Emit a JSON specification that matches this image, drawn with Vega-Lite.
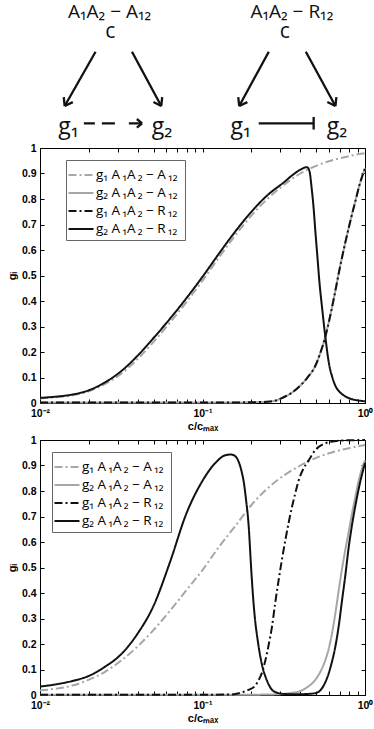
{
  "$schema": "https://vega.github.io/schema/vega-lite/v6.json",
  "padding": {"left": 5, "top": 0, "right": 2, "bottom": 2},
  "bounds": "flush",
  "spacing": 37,
  "background": "white",
  "resolve": {"scale": {"color": "independent", "strokeDash": "independent"}, "legend": {"color": "independent", "strokeDash": "independent"}},
  "config": {
    "font": "Liberation Sans",
    "view": {"stroke": "black", "strokeWidth": 1},
    "axis": {"grid": false, "domainColor": "black", "tickColor": "black", "labelColor": "black", "titleColor": "black", "labelFont": "Liberation Sans", "labelFontWeight": "bold", "labelFontSize": 10.5, "titleFont": "Liberation Sans", "titleFontWeight": "bold", "titleFontSize": 11, "labelFlush": false, "labelOverlap": false, "tickSize": -4},
    "legend": {"fillColor": "white", "strokeColor": "#666", "padding": 4, "symbolType": "M-1.25,0H1.25", "symbolSize": 400, "symbolStrokeWidth": 2, "labelFontSize": 13.5, "labelFont": "Open Sans", "labelColor": "black", "rowPadding": -2, "labelLimit": 0, "labelOffset": 4}
  },
  "datasets": {
    "texts": [
      {"x": 21.4, "y": 83.5, "text": "A₁A₂ − A₁₂", "role": "title"},
      {"x": 77.5, "y": 83.5, "text": "A₁A₂ − R₁₂", "role": "title"},
      {"x": 21.6, "y": 65.5, "text": "c", "role": "c"},
      {"x": 75.3, "y": 65.5, "text": "c", "role": "c"},
      {"x": 8.8, "y": -20.7, "text": "g₁", "role": "g"},
      {"x": 37.5, "y": -20.7, "text": "g₂", "role": "g"},
      {"x": 61.8, "y": -20.7, "text": "g₁", "role": "g"},
      {"x": 91.4, "y": -20.7, "text": "g₂", "role": "g"}
    ],
    "arrows": [
      {"x": 17.1, "y": 53.4, "x2": 7.6, "y2": 4.5, "kind": "solid"},
      {"x": 7.6, "y": 4.5, "x2": 10.1, "y2": 8.0, "kind": "solid"},
      {"x": 7.6, "y": 4.5, "x2": 7.3, "y2": 12.6, "kind": "solid"},
      {"x": 28.3, "y": 53.4, "x2": 37.3, "y2": 4.5, "kind": "solid"},
      {"x": 37.3, "y": 4.5, "x2": 37.6, "y2": 12.5, "kind": "solid"},
      {"x": 37.3, "y": 4.5, "x2": 34.9, "y2": 8.1, "kind": "solid"},
      {"x": 70.4, "y": 53.4, "x2": 61.3, "y2": 4.5, "kind": "solid"},
      {"x": 61.3, "y": 4.5, "x2": 63.8, "y2": 8.0, "kind": "solid"},
      {"x": 61.3, "y": 4.5, "x2": 61.0, "y2": 12.6, "kind": "solid"},
      {"x": 81.8, "y": 53.4, "x2": 90.9, "y2": 4.5, "kind": "solid"},
      {"x": 90.9, "y": 4.5, "x2": 91.2, "y2": 12.5, "kind": "solid"},
      {"x": 90.9, "y": 4.5, "x2": 88.4, "y2": 8.1, "kind": "solid"},
      {"x": 31.4, "y": -11.1, "x2": 29.8, "y2": -7.2, "kind": "solid"},
      {"x": 31.4, "y": -11.1, "x2": 29.8, "y2": -15.0, "kind": "solid"},
      {"x": 67.3, "y": -11.1, "x2": 84.2, "y2": -11.1, "kind": "solid"},
      {"x": 84.2, "y": -5.4, "x2": 84.2, "y2": -16.7, "kind": "solid"},
      {"x": 13.5, "y": -11.1, "x2": 31.4, "y2": -11.1, "kind": "dashed"}
    ],
    "top": [
      {"c": 0.01, "g": 0.018, "s": "s1"}, {"c": 0.0126, "g": 0.023, "s": "s1"}, {"c": 0.0158, "g": 0.03, "s": "s1"}, {"c": 0.02, "g": 0.046, "s": "s1"}, {"c": 0.025, "g": 0.074, "s": "s1"}, {"c": 0.0316, "g": 0.115, "s": "s1"}, {"c": 0.0398, "g": 0.172, "s": "s1"}, {"c": 0.05, "g": 0.24, "s": "s1"}, {"c": 0.063, "g": 0.315, "s": "s1"}, {"c": 0.0794, "g": 0.395, "s": "s1"}, {"c": 0.1, "g": 0.48, "s": "s1"}, {"c": 0.126, "g": 0.57, "s": "s1"}, {"c": 0.158, "g": 0.655, "s": "s1"}, {"c": 0.2, "g": 0.735, "s": "s1"}, {"c": 0.251, "g": 0.8, "s": "s1"}, {"c": 0.316, "g": 0.855, "s": "s1"}, {"c": 0.4, "g": 0.9, "s": "s1"}, {"c": 0.5, "g": 0.93, "s": "s1"}, {"c": 0.63, "g": 0.952, "s": "s1"}, {"c": 0.794, "g": 0.968, "s": "s1"}, {"c": 1, "g": 0.98, "s": "s1"},
      {"c": 0.01, "g": 0.002, "s": "s2"}, {"c": 0.05, "g": 0.002, "s": "s2"}, {"c": 0.1, "g": 0.002, "s": "s2"}, {"c": 0.15, "g": 0.002, "s": "s2"}, {"c": 0.2, "g": 0.003, "s": "s2"}, {"c": 0.25, "g": 0.005, "s": "s2"}, {"c": 0.27, "g": 0.007, "s": "s2"}, {"c": 0.29, "g": 0.012, "s": "s2"}, {"c": 0.31, "g": 0.02, "s": "s2"}, {"c": 0.35, "g": 0.038, "s": "s2"}, {"c": 0.39, "g": 0.062, "s": "s2"}, {"c": 0.44, "g": 0.098, "s": "s2"}, {"c": 0.494, "g": 0.145, "s": "s2"}, {"c": 0.53, "g": 0.195, "s": "s2"}, {"c": 0.57, "g": 0.26, "s": "s2"}, {"c": 0.61, "g": 0.34, "s": "s2"}, {"c": 0.657, "g": 0.44, "s": "s2"}, {"c": 0.7, "g": 0.53, "s": "s2"}, {"c": 0.757, "g": 0.63, "s": "s2"}, {"c": 0.81, "g": 0.71, "s": "s2"}, {"c": 0.871, "g": 0.79, "s": "s2"}, {"c": 0.93, "g": 0.86, "s": "s2"}, {"c": 1, "g": 0.92, "s": "s2"},
      {"c": 0.01, "g": 0.002, "s": "s3"}, {"c": 0.05, "g": 0.002, "s": "s3"}, {"c": 0.1, "g": 0.002, "s": "s3"}, {"c": 0.15, "g": 0.002, "s": "s3"}, {"c": 0.2, "g": 0.003, "s": "s3"}, {"c": 0.25, "g": 0.005, "s": "s3"}, {"c": 0.27, "g": 0.007, "s": "s3"}, {"c": 0.29, "g": 0.012, "s": "s3"}, {"c": 0.31, "g": 0.02, "s": "s3"}, {"c": 0.35, "g": 0.038, "s": "s3"}, {"c": 0.39, "g": 0.062, "s": "s3"}, {"c": 0.44, "g": 0.098, "s": "s3"}, {"c": 0.494, "g": 0.145, "s": "s3"}, {"c": 0.53, "g": 0.195, "s": "s3"}, {"c": 0.57, "g": 0.26, "s": "s3"}, {"c": 0.61, "g": 0.34, "s": "s3"}, {"c": 0.657, "g": 0.44, "s": "s3"}, {"c": 0.7, "g": 0.53, "s": "s3"}, {"c": 0.757, "g": 0.63, "s": "s3"}, {"c": 0.81, "g": 0.71, "s": "s3"}, {"c": 0.871, "g": 0.79, "s": "s3"}, {"c": 0.93, "g": 0.86, "s": "s3"}, {"c": 1, "g": 0.92, "s": "s3"},
      {"c": 0.01, "g": 0.02, "s": "s4"}, {"c": 0.0126, "g": 0.025, "s": "s4"}, {"c": 0.0158, "g": 0.033, "s": "s4"}, {"c": 0.02, "g": 0.05, "s": "s4"}, {"c": 0.025, "g": 0.08, "s": "s4"}, {"c": 0.0316, "g": 0.125, "s": "s4"}, {"c": 0.0398, "g": 0.185, "s": "s4"}, {"c": 0.05, "g": 0.255, "s": "s4"}, {"c": 0.063, "g": 0.33, "s": "s4"}, {"c": 0.0794, "g": 0.41, "s": "s4"}, {"c": 0.1, "g": 0.495, "s": "s4"}, {"c": 0.126, "g": 0.585, "s": "s4"}, {"c": 0.158, "g": 0.67, "s": "s4"}, {"c": 0.2, "g": 0.75, "s": "s4"}, {"c": 0.251, "g": 0.815, "s": "s4"}, {"c": 0.316, "g": 0.865, "s": "s4"}, {"c": 0.36, "g": 0.895, "s": "s4"}, {"c": 0.4, "g": 0.915, "s": "s4"}, {"c": 0.44, "g": 0.925, "s": "s4"}, {"c": 0.455, "g": 0.91, "s": "s4"}, {"c": 0.47, "g": 0.84, "s": "s4"}, {"c": 0.482, "g": 0.77, "s": "s4"}, {"c": 0.494, "g": 0.68, "s": "s4"}, {"c": 0.51, "g": 0.57, "s": "s4"}, {"c": 0.525, "g": 0.47, "s": "s4"}, {"c": 0.543, "g": 0.38, "s": "s4"}, {"c": 0.57, "g": 0.26, "s": "s4"}, {"c": 0.6, "g": 0.155, "s": "s4"}, {"c": 0.63, "g": 0.1, "s": "s4"}, {"c": 0.66, "g": 0.065, "s": "s4"}, {"c": 0.69, "g": 0.047, "s": "s4"}, {"c": 0.74, "g": 0.03, "s": "s4"}, {"c": 0.79, "g": 0.02, "s": "s4"}, {"c": 0.87, "g": 0.012, "s": "s4"}, {"c": 1, "g": 0.007, "s": "s4"}
    ],
    "bottom": [
      {"c": 0.01, "g": 0.018, "s": "s1"}, {"c": 0.0126, "g": 0.025, "s": "s1"}, {"c": 0.0158, "g": 0.037, "s": "s1"}, {"c": 0.02, "g": 0.06, "s": "s1"}, {"c": 0.025, "g": 0.09, "s": "s1"}, {"c": 0.0316, "g": 0.135, "s": "s1"}, {"c": 0.0398, "g": 0.19, "s": "s1"}, {"c": 0.05, "g": 0.255, "s": "s1"}, {"c": 0.063, "g": 0.33, "s": "s1"}, {"c": 0.0794, "g": 0.41, "s": "s1"}, {"c": 0.1, "g": 0.49, "s": "s1"}, {"c": 0.126, "g": 0.58, "s": "s1"}, {"c": 0.158, "g": 0.66, "s": "s1"}, {"c": 0.2, "g": 0.745, "s": "s1"}, {"c": 0.251, "g": 0.81, "s": "s1"}, {"c": 0.316, "g": 0.86, "s": "s1"}, {"c": 0.4, "g": 0.9, "s": "s1"}, {"c": 0.5, "g": 0.93, "s": "s1"}, {"c": 0.63, "g": 0.952, "s": "s1"}, {"c": 0.794, "g": 0.968, "s": "s1"}, {"c": 1, "g": 0.98, "s": "s1"},
      {"c": 0.01, "g": 0.001, "s": "s2"}, {"c": 0.1, "g": 0.001, "s": "s2"}, {"c": 0.2, "g": 0.001, "s": "s2"}, {"c": 0.25, "g": 0.002, "s": "s2"}, {"c": 0.294, "g": 0.003, "s": "s2"}, {"c": 0.35, "g": 0.008, "s": "s2"}, {"c": 0.39, "g": 0.013, "s": "s2"}, {"c": 0.44, "g": 0.03, "s": "s2"}, {"c": 0.494, "g": 0.059, "s": "s2"}, {"c": 0.53, "g": 0.09, "s": "s2"}, {"c": 0.57, "g": 0.137, "s": "s2"}, {"c": 0.6, "g": 0.185, "s": "s2"}, {"c": 0.626, "g": 0.24, "s": "s2"}, {"c": 0.657, "g": 0.32, "s": "s2"}, {"c": 0.689, "g": 0.41, "s": "s2"}, {"c": 0.72, "g": 0.49, "s": "s2"}, {"c": 0.757, "g": 0.57, "s": "s2"}, {"c": 0.794, "g": 0.64, "s": "s2"}, {"c": 0.831, "g": 0.71, "s": "s2"}, {"c": 0.871, "g": 0.775, "s": "s2"}, {"c": 0.914, "g": 0.84, "s": "s2"}, {"c": 0.955, "g": 0.885, "s": "s2"}, {"c": 1, "g": 0.92, "s": "s2"},
      {"c": 0.01, "g": 0.001, "s": "s3"}, {"c": 0.1, "g": 0.001, "s": "s3"}, {"c": 0.15, "g": 0.002, "s": "s3"}, {"c": 0.17, "g": 0.008, "s": "s3"}, {"c": 0.192, "g": 0.02, "s": "s3"}, {"c": 0.21, "g": 0.035, "s": "s3"}, {"c": 0.222, "g": 0.059, "s": "s3"}, {"c": 0.233, "g": 0.09, "s": "s3"}, {"c": 0.244, "g": 0.137, "s": "s3"}, {"c": 0.256, "g": 0.2, "s": "s3"}, {"c": 0.268, "g": 0.27, "s": "s3"}, {"c": 0.28, "g": 0.36, "s": "s3"}, {"c": 0.294, "g": 0.45, "s": "s3"}, {"c": 0.308, "g": 0.53, "s": "s3"}, {"c": 0.324, "g": 0.61, "s": "s3"}, {"c": 0.34, "g": 0.68, "s": "s3"}, {"c": 0.356, "g": 0.74, "s": "s3"}, {"c": 0.372, "g": 0.79, "s": "s3"}, {"c": 0.39, "g": 0.84, "s": "s3"}, {"c": 0.42, "g": 0.89, "s": "s3"}, {"c": 0.45, "g": 0.92, "s": "s3"}, {"c": 0.494, "g": 0.96, "s": "s3"}, {"c": 0.57, "g": 0.987, "s": "s3"}, {"c": 0.65, "g": 0.995, "s": "s3"}, {"c": 0.72, "g": 0.998, "s": "s3"}, {"c": 1, "g": 1.0, "s": "s3"},
      {"c": 0.01, "g": 0.033, "s": "s4"}, {"c": 0.0126, "g": 0.042, "s": "s4"}, {"c": 0.0158, "g": 0.055, "s": "s4"}, {"c": 0.02, "g": 0.075, "s": "s4"}, {"c": 0.025, "g": 0.11, "s": "s4"}, {"c": 0.0316, "g": 0.16, "s": "s4"}, {"c": 0.0398, "g": 0.24, "s": "s4"}, {"c": 0.05, "g": 0.35, "s": "s4"}, {"c": 0.063, "g": 0.52, "s": "s4"}, {"c": 0.0794, "g": 0.71, "s": "s4"}, {"c": 0.1, "g": 0.84, "s": "s4"}, {"c": 0.12, "g": 0.91, "s": "s4"}, {"c": 0.138, "g": 0.94, "s": "s4"}, {"c": 0.15, "g": 0.943, "s": "s4"}, {"c": 0.16, "g": 0.935, "s": "s4"}, {"c": 0.168, "g": 0.91, "s": "s4"}, {"c": 0.175, "g": 0.87, "s": "s4"}, {"c": 0.18, "g": 0.83, "s": "s4"}, {"c": 0.185, "g": 0.77, "s": "s4"}, {"c": 0.192, "g": 0.67, "s": "s4"}, {"c": 0.2, "g": 0.48, "s": "s4"}, {"c": 0.205, "g": 0.38, "s": "s4"}, {"c": 0.211, "g": 0.29, "s": "s4"}, {"c": 0.218, "g": 0.22, "s": "s4"}, {"c": 0.227, "g": 0.15, "s": "s4"}, {"c": 0.235, "g": 0.105, "s": "s4"}, {"c": 0.244, "g": 0.072, "s": "s4"}, {"c": 0.256, "g": 0.04, "s": "s4"}, {"c": 0.268, "g": 0.02, "s": "s4"}, {"c": 0.285, "g": 0.01, "s": "s4"}, {"c": 0.308, "g": 0.005, "s": "s4"}, {"c": 0.35, "g": 0.003, "s": "s4"}, {"c": 0.39, "g": 0.003, "s": "s4"}, {"c": 0.44, "g": 0.004, "s": "s4"}, {"c": 0.494, "g": 0.007, "s": "s4"}, {"c": 0.52, "g": 0.013, "s": "s4"}, {"c": 0.543, "g": 0.026, "s": "s4"}, {"c": 0.57, "g": 0.05, "s": "s4"}, {"c": 0.598, "g": 0.085, "s": "s4"}, {"c": 0.626, "g": 0.13, "s": "s4"}, {"c": 0.657, "g": 0.19, "s": "s4"}, {"c": 0.689, "g": 0.27, "s": "s4"}, {"c": 0.722, "g": 0.37, "s": "s4"}, {"c": 0.757, "g": 0.47, "s": "s4"}, {"c": 0.794, "g": 0.58, "s": "s4"}, {"c": 0.831, "g": 0.665, "s": "s4"}, {"c": 0.871, "g": 0.74, "s": "s4"}, {"c": 0.93, "g": 0.83, "s": "s4"}, {"c": 1, "g": 0.91, "s": "s4"}
    ]
  },
  "vconcat": [
    {
      "width": 325,
      "height": 111,
      "view": {"stroke": null},
      "layer": [
        {
          "data": {"name": "arrows"},
          "transform": [{"filter": "datum.kind == 'solid'"}],
          "mark": {"type": "rule", "strokeWidth": 2.3, "color": "#111", "strokeCap": "butt"},
          "encoding": {
            "x": {"field": "x", "type": "quantitative", "scale": {"domain": [0, 100], "nice": false, "zero": false}, "axis": null},
            "y": {"field": "y", "type": "quantitative", "scale": {"domain": [0, 100], "nice": false, "zero": false}, "axis": null},
            "x2": {"field": "x2"},
            "y2": {"field": "y2"}
          }
        },
        {
          "data": {"name": "arrows"},
          "transform": [{"filter": "datum.kind == 'dashed'"}],
          "mark": {"type": "rule", "strokeWidth": 2.3, "color": "#111", "strokeDash": [11, 7, 13, 14, 20, 4]},
          "encoding": {
            "x": {"field": "x", "type": "quantitative", "axis": null},
            "y": {"field": "y", "type": "quantitative", "axis": null},
            "x2": {"field": "x2"},
            "y2": {"field": "y2"}
          }
        },
        {
          "data": {"name": "texts"},
          "transform": [{"filter": "datum.role == 'title'"}],
          "mark": {"type": "text", "font": "Open Sans", "fontSize": 19, "baseline": "alphabetic", "align": "center", "color": "#111"},
          "encoding": {
            "x": {"field": "x", "type": "quantitative", "axis": null},
            "y": {"field": "y", "type": "quantitative", "axis": null},
            "text": {"field": "text"}
          }
        },
        {
          "data": {"name": "texts"},
          "transform": [{"filter": "datum.role == 'c'"}],
          "mark": {"type": "text", "font": "Open Sans", "fontSize": 21, "baseline": "alphabetic", "align": "center", "color": "#111"},
          "encoding": {
            "x": {"field": "x", "type": "quantitative", "axis": null},
            "y": {"field": "y", "type": "quantitative", "axis": null},
            "text": {"field": "text"}
          }
        },
        {
          "data": {"name": "texts"},
          "transform": [{"filter": "datum.role == 'g'"}],
          "mark": {"type": "text", "font": "Open Sans", "fontSize": 23, "baseline": "alphabetic", "align": "center", "color": "#111"},
          "encoding": {
            "x": {"field": "x", "type": "quantitative", "axis": null},
            "y": {"field": "y", "type": "quantitative", "axis": null},
            "text": {"field": "text"}
          }
        }
      ]
    },
    {
      "width": 325,
      "height": 255,
      "data": {"name": "top"},
      "layer": [
        {
          "mark": {"type": "line", "strokeWidth": 2, "interpolate": "monotone"},
          "encoding": {
            "x": {"field": "c", "type": "quantitative", "scale": {"type": "log", "domain": [0.01, 1], "nice": false},
              "axis": {"orient": "bottom", "title": "c/cₘₐₓ", "values": [0.01, 0.02, 0.03, 0.04, 0.05, 0.06, 0.07, 0.08, 0.09, 0.1, 0.2, 0.3, 0.4, 0.5, 0.6, 0.7, 0.8, 0.9, 1], "labelExpr": "datum.value == 0.01 ? '10⁻²' : datum.value == 0.1 ? '10⁻¹' : datum.value == 1 ? '10⁰' : ''", "labelPadding": 9, "titlePadding": 2}},
            "y": {"field": "g", "type": "quantitative", "scale": {"domain": [0, 1], "nice": false},
              "axis": {"orient": "left", "title": "gᵢ", "values": [0, 0.1, 0.2, 0.3, 0.4, 0.5, 0.6, 0.7, 0.8, 0.9, 1], "format": "~g", "labelPadding": 8, "titlePadding": 4}},
            "color": {"field": "s", "type": "nominal", "scale": {"domain": ["s1", "s2", "s3", "s4"], "range": ["#a6a6a6", "#a6a6a6", "#111111", "#111111"]},
              "legend": {"orient": "none", "legendX": 26, "legendY": 12, "title": null, "labelExpr": "datum.value == 's1' ? 'g₁  A\u2009₁A\u2009₂ − A\u2009₁₂' : datum.value == 's2' ? 'g₂  A\u2009₁A\u2009₂ − A\u2009₁₂' : datum.value == 's3' ? 'g₁  A\u2009₁A\u2009₂ − R\u2009₁₂' : 'g₂  A\u2009₁A\u2009₂ − R\u2009₁₂'"}},
            "strokeDash": {"field": "s", "type": "nominal", "scale": {"domain": ["s1", "s2", "s3", "s4"], "range": [[8, 3, 2, 3], [1, 0], [8, 3, 2, 3], [1, 0]]},
              "legend": {"orient": "none", "legendX": 26, "legendY": 12, "title": null, "labelExpr": "datum.value == 's1' ? 'g₁  A\u2009₁A\u2009₂ − A\u2009₁₂' : datum.value == 's2' ? 'g₂  A\u2009₁A\u2009₂ − A\u2009₁₂' : datum.value == 's3' ? 'g₁  A\u2009₁A\u2009₂ − R\u2009₁₂' : 'g₂  A\u2009₁A\u2009₂ − R\u2009₁₂'"}}
          }
        },
        {
          "mark": {"type": "point", "opacity": 0},
          "encoding": {
            "x": {"field": "c", "type": "quantitative", "axis": {"orient": "top", "title": null, "labels": false, "domain": false, "values": [0.01, 0.02, 0.03, 0.04, 0.05, 0.06, 0.07, 0.08, 0.09, 0.1, 0.2, 0.3, 0.4, 0.5, 0.6, 0.7, 0.8, 0.9, 1]}},
            "y": {"field": "g", "type": "quantitative", "axis": {"orient": "right", "title": null, "labels": false, "domain": false, "values": [0, 0.1, 0.2, 0.3, 0.4, 0.5, 0.6, 0.7, 0.8, 0.9, 1]}}
          }
        }
      ],
      "resolve": {"axis": {"x": "independent", "y": "independent"}}
    },
    {
      "width": 325,
      "height": 255,
      "data": {"name": "bottom"},
      "layer": [
        {
          "mark": {"type": "line", "strokeWidth": 2, "interpolate": "monotone"},
          "encoding": {
            "x": {"field": "c", "type": "quantitative", "scale": {"type": "log", "domain": [0.01, 1], "nice": false},
              "axis": {"orient": "bottom", "title": "c/cₘₐₓ", "values": [0.01, 0.02, 0.03, 0.04, 0.05, 0.06, 0.07, 0.08, 0.09, 0.1, 0.2, 0.3, 0.4, 0.5, 0.6, 0.7, 0.8, 0.9, 1], "labelExpr": "datum.value == 0.01 ? '10⁻²' : datum.value == 0.1 ? '10⁻¹' : datum.value == 1 ? '10⁰' : ''", "labelPadding": 9, "titlePadding": 2}},
            "y": {"field": "g", "type": "quantitative", "scale": {"domain": [0, 1], "nice": false},
              "axis": {"orient": "left", "title": "gᵢ", "values": [0, 0.1, 0.2, 0.3, 0.4, 0.5, 0.6, 0.7, 0.8, 0.9, 1], "format": "~g", "labelPadding": 8, "titlePadding": 4}},
            "color": {"field": "s", "type": "nominal", "scale": {"domain": ["s1", "s2", "s3", "s4"], "range": ["#a6a6a6", "#a6a6a6", "#111111", "#111111"]},
              "legend": {"orient": "none", "legendX": 12, "legendY": 12, "title": null, "labelExpr": "datum.value == 's1' ? 'g₁  A\u2009₁A\u2009₂ − A\u2009₁₂' : datum.value == 's2' ? 'g₂  A\u2009₁A\u2009₂ − A\u2009₁₂' : datum.value == 's3' ? 'g₁  A\u2009₁A\u2009₂ − R\u2009₁₂' : 'g₂  A\u2009₁A\u2009₂ − R\u2009₁₂'"}},
            "strokeDash": {"field": "s", "type": "nominal", "scale": {"domain": ["s1", "s2", "s3", "s4"], "range": [[8, 3, 2, 3], [1, 0], [8, 3, 2, 3], [1, 0]]},
              "legend": {"orient": "none", "legendX": 12, "legendY": 12, "title": null, "labelExpr": "datum.value == 's1' ? 'g₁  A\u2009₁A\u2009₂ − A\u2009₁₂' : datum.value == 's2' ? 'g₂  A\u2009₁A\u2009₂ − A\u2009₁₂' : datum.value == 's3' ? 'g₁  A\u2009₁A\u2009₂ − R\u2009₁₂' : 'g₂  A\u2009₁A\u2009₂ − R\u2009₁₂'"}}
          }
        },
        {
          "mark": {"type": "point", "opacity": 0},
          "encoding": {
            "x": {"field": "c", "type": "quantitative", "axis": {"orient": "top", "title": null, "labels": false, "domain": false, "values": [0.01, 0.02, 0.03, 0.04, 0.05, 0.06, 0.07, 0.08, 0.09, 0.1, 0.2, 0.3, 0.4, 0.5, 0.6, 0.7, 0.8, 0.9, 1]}},
            "y": {"field": "g", "type": "quantitative", "axis": {"orient": "right", "title": null, "labels": false, "domain": false, "values": [0, 0.1, 0.2, 0.3, 0.4, 0.5, 0.6, 0.7, 0.8, 0.9, 1]}}
          }
        }
      ],
      "resolve": {"axis": {"x": "independent", "y": "independent"}}
    }
  ]
}
